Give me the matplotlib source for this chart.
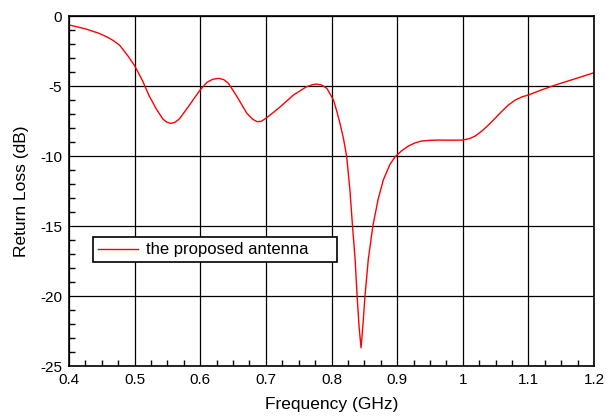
import numpy as np
import matplotlib
matplotlib.use('Agg')
import matplotlib.pyplot as plt
from matplotlib.ticker import MultipleLocator

plt.rcParams['font.family'] = ['Liberation Sans', 'DejaVu Sans']
plt.rcParams['axes.unicode_minus'] = False

# values
freq_ghz = [0.400, 0.413, 0.426, 0.446, 0.461, 0.469, 0.477, 0.489, 0.500, 0.512, 0.522,
            0.533, 0.543, 0.549, 0.555, 0.561, 0.568, 0.583, 0.599, 0.610, 0.619,
            0.628, 0.636, 0.643, 0.656, 0.671, 0.680, 0.687, 0.693, 0.700, 0.711,
            0.722, 0.742, 0.762, 0.770, 0.777, 0.785, 0.793, 0.803, 0.808, 0.8125,
            0.818, 0.823, 0.828, 0.832, 0.836, 0.839, 0.842, 0.845, 0.848, 0.851,
            0.856, 0.863, 0.871, 0.879, 0.889, 0.897, 0.907, 0.917, 0.927, 0.937,
            0.950, 0.963, 0.980, 1.000, 1.010, 1.019, 1.029, 1.039, 1.049, 1.059,
            1.069, 1.080, 1.090, 1.100, 1.120, 1.141, 1.170, 1.200]
return_loss = [-0.64, -0.78, -0.93, -1.24, -1.57, -1.8, -2.08, -2.8, -3.55, -4.62, -5.69,
               -6.64, -7.36, -7.58, -7.67, -7.6, -7.36, -6.4, -5.33, -4.74, -4.52,
               -4.45, -4.55, -4.81, -5.76, -6.95, -7.38, -7.55, -7.52, -7.31, -6.9,
               -6.48, -5.64, -5.05, -4.92, -4.86, -4.93, -5.17, -6.0, -6.8, -7.6,
               -8.7, -10.0, -12.4, -15.0, -17.4, -20.0, -22.2, -23.7, -22.0, -20.0,
               -17.4, -15.0, -13.1, -11.7, -10.6, -10.05, -9.62, -9.29, -9.07, -8.93,
               -8.88, -8.86, -8.87, -8.86, -8.76, -8.57, -8.22, -7.79, -7.32, -6.83,
               -6.38, -6.0, -5.78, -5.64, -5.28, -4.93, -4.5, -4.05]

fig = plt.figure(figsize=(6.07, 4.17), dpi=100)
ax = fig.add_axes([0.1137, 0.1223, 0.8649, 0.8393])

ax.plot(freq_ghz, return_loss, color='red', linewidth=1.0, label='the proposed antenna')

ax.set_xlim(0.4, 1.2)
ax.set_ylim(-25, 0)
ax.xaxis.set_minor_locator(MultipleLocator(0.025))
ax.yaxis.set_major_locator(MultipleLocator(5))
ax.yaxis.set_minor_locator(MultipleLocator(1))
ax.set_xticks(np.arange(0.4, 1.21, 0.1))
ax.set_xticklabels(['0.4', '0.5', '0.6', '0.7', '0.8', '0.9', '1', '1.1', '1.2'])
ax.tick_params(which='both', direction='in', labelsize=11, top=False, right=False)
ax.tick_params(which='major', length=0, pad=5)
ax.tick_params(which='minor', length=4, width=1)
ax.grid(True, which='major', color='black', linewidth=0.9)
for s in ax.spines.values():
    s.set_linewidth(1.2)

ax.set_xlabel('Frequency (GHz)', fontsize=12.5, labelpad=7)
ax.set_ylabel('Return Loss (dB)', fontsize=12.5, labelpad=8)

leg = ax.legend(loc='lower left', bbox_to_anchor=(0.046, 0.296, 0.465, 0.088),
                mode='expand', fancybox=False, edgecolor='black', framealpha=1,
                fontsize=12, handlelength=2.4, handletextpad=0.5,
                borderaxespad=0, borderpad=0.3)
leg.get_frame().set_linewidth(1.2)

fig.savefig('out.png', dpi=100)
